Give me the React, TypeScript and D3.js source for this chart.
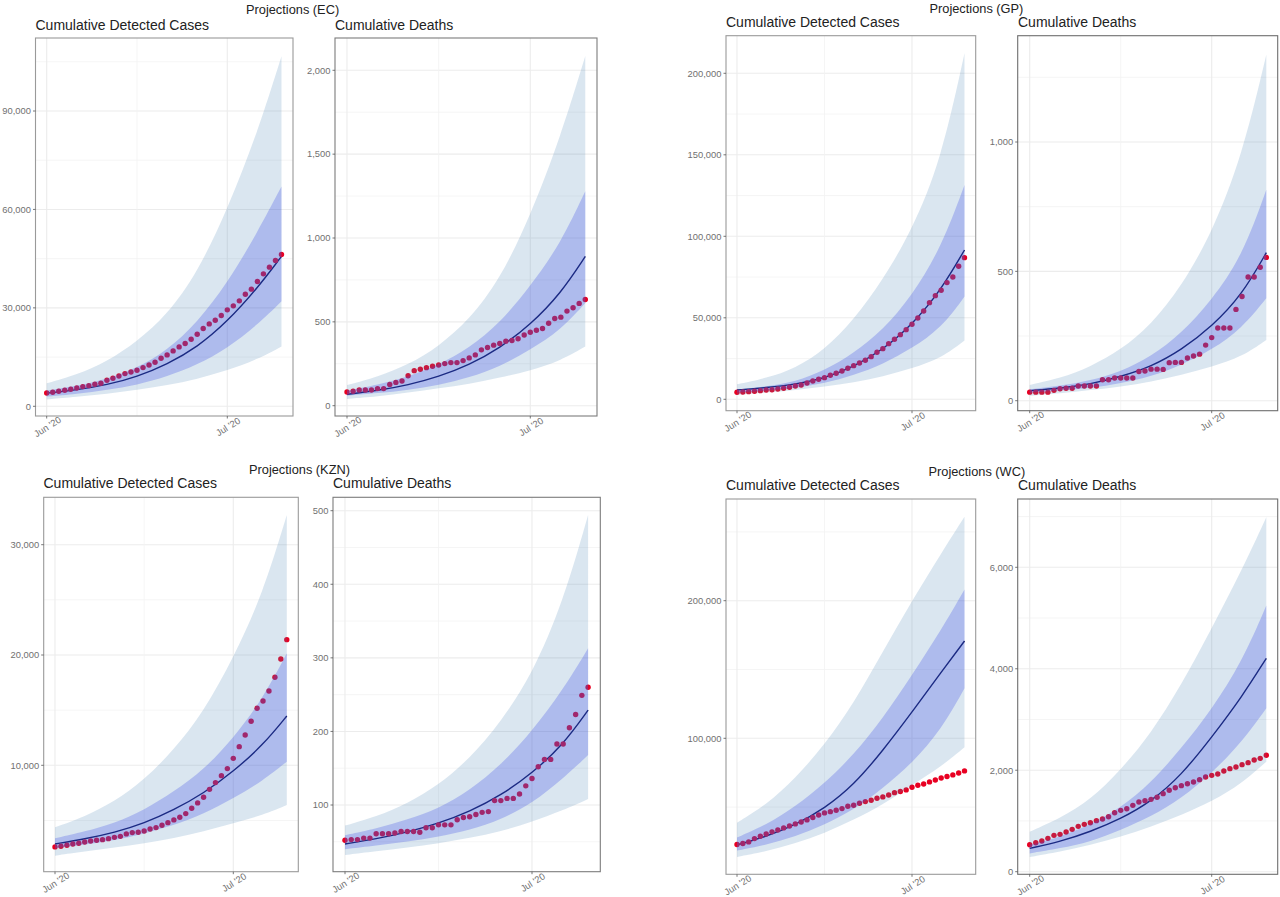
import React from "react";
import * as d3 from "d3";

// ---------- data ----------
const knotDays = [0, 5, 10, 15, 20, 25, 30, 35, 39];

const ecCasesObs = [4070,4270,4580,4880,5190,5590,6000,6300,6710,7020,7930,8540,9250,9970,10470,10980,11800,12610,13420,14640,15660,16880,18100,19120,20440,21970,23700,25120,26240,27660,29390,30610,32140,34170,35700,38040,40370,42410,44440,46270];
const ecCasesMed = [4000,5000,6500,9000,12800,18000,25800,36000,45700];
const ecCasesLo50 = [2950,3760,5000,6500,9050,12600,17700,24800,32000];
const ecCasesHi50 = [4800,6200,8300,11600,17000,25500,37500,53000,67000];
const ecCasesLo90 = [2100,2900,3800,5000,6400,8300,10900,14300,18200];
const ecCasesHi90 = [7000,9560,13600,19700,27900,40600,59900,83300,106700];

const ecDeathsObs = [82,86,94,94,94,102,102,127,139,147,179,209,217,227,235,243,251,257,257,269,285,303,333,347,361,371,385,389,399,422,438,450,460,492,520,528,564,584,610,633];
const ecDeathsMed = [68,90,123,173,243,343,482,670,890];
const ecDeathsLo50 = [60,74,94,123,168,233,333,452,612];
const ecDeathsHi50 = [90,123,173,243,343,492,711,970,1279];
const ecDeathsLo90 = [40,54,78,104,129,167,209,269,353];
const ecDeathsHi90 = [123,173,243,353,512,751,1130,1608,2086];

const gpCasesObs = [4300,4500,4700,4900,5300,5700,5900,6300,6750,7360,8180,8790,10020,11250,12270,13290,14720,15950,17380,19020,20650,22290,23930,26180,28830,31080,34150,36810,39670,42740,46010,49900,54190,59300,63600,66870,71580,75050,81600,86910];
const gpCasesMed = [5700,7160,9200,12900,20000,30300,45600,67100,91600];
const gpCasesLo50 = [4100,5300,6900,9800,14800,21500,31300,43600,63000];
const gpCasesHi50 = [6100,7800,10800,17600,28200,42500,63500,93000,131500];
const gpCasesLo90 = [2660,4090,5700,7800,10200,13900,19000,25200,36000];
const gpCasesHi90 = [9200,12900,19000,30300,48700,73200,103900,146800,212300];

const gpDeathsObs = [33,33,33,33,40,46,48,48,57,57,57,57,81,81,88,88,88,88,113,115,122,122,121,147,148,148,165,173,180,215,244,281,281,281,353,403,478,478,516,554];
const gpDeathsMed = [39,48,64,93,131,196,286,409,572];
const gpDeathsLo50 = [31,39,48,67,93,138,196,280,396];
const gpDeathsHi50 = [44,57,78,112,170,260,389,557,815];
const gpDeathsLo90 = [19,28,41,54,73,99,131,170,235];
const gpDeathsHi90 = [61,86,131,196,293,441,647,944,1337];

const kznCasesObs = [2600,2660,2750,2870,2930,3050,3140,3200,3260,3350,3470,3560,3780,3900,3930,4050,4230,4350,4560,4800,5050,5290,5620,6100,6590,7100,7820,8430,9060,9700,10630,11690,12750,13990,15170,15830,16740,17980,19640,21390];
const kznCasesMed = [2870,3320,3900,4740,5950,7460,9430,11840,14470];
const kznCasesLo50 = [2480,2800,3200,3800,4550,5600,7000,8600,10330];
const kznCasesHi50 = [3380,3990,4740,5950,7610,9580,12450,16070,20150];
const kznCasesLo90 = [1810,2180,2540,2930,3380,3990,4740,5500,6400];
const kznCasesHi90 = [4380,5350,6700,8670,11390,14860,19700,25600,32690];

const kznDeathsObs = [52,53,53,55,55,61,61,61,62,64,64,64,63,69,69,73,73,73,80,83,84,87,90,91,106,106,109,109,115,126,136,152,162,162,183,183,205,223,249,260];
const kznDeathsMed = [47,54,63,75,91,113,143,182,229];
const kznDeathsLo50 = [40,45,50,57,66,80,102,136,168];
const kznDeathsHi50 = [59,68,80,95,120,154,200,257,313];
const kznDeathsLo90 = [32,37,42,48,55,64,77,93,108];
const kznDeathsHi90 = [72,84,102,127,163,213,277,376,494];

const wcCasesObs = [22770,23500,24700,27100,28800,30500,32000,33400,34900,36300,37800,39200,40700,42400,44300,45800,46700,47700,48900,50600,51300,52800,54000,55000,56400,57400,58800,60500,61300,62500,64400,65900,66800,68300,69700,71200,72200,73400,74800,76300];
const wcCasesMed = [22500,28600,37100,49000,66000,91000,119000,148000,170700];
const wcCasesLo50 = [18400,22500,28600,37100,47900,63700,81800,106100,136300];
const wcCasesHi50 = [27900,37100,50400,67300,87900,114500,146000,178700,208200];
const wcCasesLo90 = [13800,17700,23700,31000,40700,51600,66100,79400,93500];
const wcCasesHi90 = [38700,51600,70900,95200,125400,163000,200000,234400,261000];

const wcDeathsObs = [532,572,605,657,716,736,782,835,894,933,966,1006,1038,1084,1163,1209,1242,1308,1374,1400,1426,1466,1538,1604,1656,1696,1735,1768,1814,1866,1899,1926,1985,2031,2064,2110,2149,2202,2234,2294];
const wcDeathsMed = [460,591,789,1040,1380,1900,2650,3450,4206];
const wcDeathsLo50 = [361,460,591,821,1084,1446,1939,2563,3220];
const wcDeathsHi50 = [526,690,920,1260,1750,2432,3200,4140,5245];
const wcDeathsLo90 = [289,394,526,690,887,1117,1380,1742,2169];
const wcDeathsHi90 = [789,1052,1413,2004,2727,3680,4800,5950,6986];

const casesTitle = "Cumulative Detected Cases";
const deathsTitle = "Cumulative Deaths";
const xTickDays = [0, 30];
const xTickLabels = ["Jun '20", "Jul '20"];
const xMinorDay = 15;

// ---------- layout ----------
type Panel = {
  title: string; titleX: number; titleY: number;
  box: [number, number, number, number]; // left, right, top, bottom
  dayPx: [number, number]; // px of day 0, day 30
  yAnchorV: [number, number]; yAnchorPx: [number, number];
  yTicks: number[];
  obs: number[]; med: number[]; lo50: number[]; hi50: number[]; lo90: number[]; hi90: number[];
  border: string;
};

const panels: Panel[] = [
  { title: casesTitle, titleX: 35.5, titleY: 29.5, box: [35.5, 293, 38, 416], dayPx: [46.7, 227.3],
    yAnchorV: [0, 90000], yAnchorPx: [406.3, 111], yTicks: [0, 30000, 60000, 90000],
    obs: ecCasesObs, med: ecCasesMed, lo50: ecCasesLo50, hi50: ecCasesHi50, lo90: ecCasesLo90, hi90: ecCasesHi90, border: "#9a9a9a" },
  { title: deathsTitle, titleX: 335, titleY: 29.5, box: [335, 597, 38, 416], dayPx: [347, 530.3],
    yAnchorV: [0, 2000], yAnchorPx: [405.7, 70.3], yTicks: [0, 500, 1000, 1500, 2000],
    obs: ecDeathsObs, med: ecDeathsMed, lo50: ecDeathsLo50, hi50: ecDeathsHi50, lo90: ecDeathsLo90, hi90: ecDeathsHi90, border: "#7c7c7c" },
  { title: casesTitle, titleX: 726, titleY: 27, box: [726, 975.7, 35.7, 410.7], dayPx: [737, 912],
    yAnchorV: [0, 200000], yAnchorPx: [399.3, 73.3], yTicks: [0, 50000, 100000, 150000, 200000],
    obs: gpCasesObs, med: gpCasesMed, lo50: gpCasesLo50, hi50: gpCasesHi50, lo90: gpCasesLo90, hi90: gpCasesHi90, border: "#9a9a9a" },
  { title: deathsTitle, titleX: 1018, titleY: 27, box: [1017.7, 1277.7, 35.7, 410.7], dayPx: [1029.7, 1211.7],
    yAnchorV: [0, 1000], yAnchorPx: [400.7, 142], yTicks: [0, 500, 1000],
    obs: gpDeathsObs, med: gpDeathsMed, lo50: gpDeathsLo50, hi50: gpDeathsHi50, lo90: gpDeathsLo90, hi90: gpDeathsHi90, border: "#6e6e6e" },
  { title: casesTitle, titleX: 43.5, titleY: 488, box: [43.7, 298.3, 497.3, 871.7], dayPx: [55, 233.3],
    yAnchorV: [10000, 30000], yAnchorPx: [765.3, 544.7], yTicks: [10000, 20000, 30000],
    obs: kznCasesObs, med: kznCasesMed, lo50: kznCasesLo50, hi50: kznCasesHi50, lo90: kznCasesLo90, hi90: kznCasesHi90, border: "#9a9a9a" },
  { title: deathsTitle, titleX: 333, titleY: 488, box: [333, 600.3, 497.3, 871.7], dayPx: [345, 532],
    yAnchorV: [100, 500], yAnchorPx: [805, 510.7], yTicks: [100, 200, 300, 400, 500],
    obs: kznDeathsObs, med: kznDeathsMed, lo50: kznDeathsLo50, hi50: kznDeathsHi50, lo90: kznDeathsLo90, hi90: kznDeathsHi90, border: "#7c7c7c" },
  { title: casesTitle, titleX: 726, titleY: 490, box: [726, 975.7, 499, 874.3], dayPx: [737, 912],
    yAnchorV: [100000, 200000], yAnchorPx: [738.3, 600.7], yTicks: [100000, 200000],
    obs: wcCasesObs, med: wcCasesMed, lo50: wcCasesLo50, hi50: wcCasesHi50, lo90: wcCasesLo90, hi90: wcCasesHi90, border: "#9a9a9a" },
  { title: deathsTitle, titleX: 1018, titleY: 490, box: [1017.7, 1277.7, 499, 874.3], dayPx: [1029.7, 1211.7],
    yAnchorV: [0, 6000], yAnchorPx: [871.7, 567.3], yTicks: [0, 2000, 4000, 6000],
    obs: wcDeathsObs, med: wcDeathsMed, lo50: wcDeathsLo50, hi50: wcDeathsHi50, lo90: wcDeathsLo90, hi90: wcDeathsHi90, border: "#6e6e6e" },
];

const headings = [
  { text: "Projections (EC)", x: 246, y: 14 },
  { text: "Projections (GP)", x: 929.5, y: 12.5 },
  { text: "Projections (KZN)", x: 249, y: 474 },
  { text: "Projections (WC)", x: 928.5, y: 476 },
];

const FONT = "'Liberation Sans', Arial, sans-serif";
const comma = d3.format(",");

function ChartPanel({ p }: { p: Panel }) {
  const [left, right, top, bottom] = p.box;
  const x = d3.scaleLinear().domain([0, 30]).range(p.dayPx);
  const y = d3.scaleLinear().domain(p.yAnchorV).range(p.yAnchorPx);
  const curve = d3.curveBasis;
  const band = (lo: number[], hi: number[]) =>
    d3.area<number>()
      .x((d) => x(d))
      .y0((_, i) => y(lo[i]))
      .y1((_, i) => y(hi[i]))
      .curve(curve)(knotDays) as string;
  const line = d3.line<number>()
    .x((d) => x(d))
    .y((_, i) => y(p.med[i]))
    .curve(curve)(knotDays) as string;

  const step = p.yTicks[1] - p.yTicks[0];
  const lowV = y.invert(bottom), highV = y.invert(top);
  const minors: number[] = [];
  for (let k = Math.ceil(lowV / (step / 2)); k * (step / 2) <= highV; k++) {
    if (k % 2 !== 0) minors.push(k * (step / 2));
  }

  return (
    <g>
      <text x={p.titleX} y={p.titleY} fontSize={14} fill="#222" fontFamily={FONT}>{p.title}</text>
      {minors.map((v) => (
        <line key={v} x1={left} x2={right} y1={y(v)} y2={y(v)} stroke="#f2f2f2" strokeWidth={0.8} />
      ))}
      {p.yTicks.map((v) => (
        <line key={v} x1={left} x2={right} y1={y(v)} y2={y(v)} stroke="#ececec" strokeWidth={1.1} />
      ))}
      <line x1={x(xMinorDay)} x2={x(xMinorDay)} y1={top} y2={bottom} stroke="#f2f2f2" strokeWidth={0.8} />
      {xTickDays.map((d) => (
        <line key={d} x1={x(d)} x2={x(d)} y1={top} y2={bottom} stroke="#ececec" strokeWidth={1.1} />
      ))}
      <path d={line} fill="none" stroke="#000548" strokeWidth={1.4} />
      {p.obs.map((v, i) => (
        <circle key={i} cx={x(i)} cy={y(v)} r={2.7} fill="#e80022" />
      ))}
      <path d={band(p.lo90, p.hi90)} fill="rgb(70,130,180)" fillOpacity={0.2} />
      <path d={band(p.lo50, p.hi50)} fill="rgb(60,75,230)" fillOpacity={0.28} />
      <rect x={left} y={top} width={right - left} height={bottom - top} fill="none" stroke={p.border} strokeWidth={1.1} />
      {p.yTicks.map((v) => (
        <g key={v}>
          <line x1={left - 2.5} x2={left} y1={y(v)} y2={y(v)} stroke="#555" strokeWidth={0.8} />
          <text x={left - 4.5} y={y(v)} dy="0.35em" textAnchor="end" fontSize={9.4} fill="#707070" fontFamily={FONT}>{comma(v)}</text>
        </g>
      ))}
      {xTickDays.map((d, i) => (
        <g key={d}>
          <line x1={x(d)} x2={x(d)} y1={bottom} y2={bottom + 2.5} stroke="#555" strokeWidth={0.8} />
          <text transform={`translate(${x(d) + 2.5},${bottom + 13.5}) rotate(-32)`} textAnchor="middle" fontSize={9.4} fill="#707070" fontFamily={FONT}>{xTickLabels[i]}</text>
        </g>
      ))}
    </g>
  );
}

export default function App() {
  return (
    <svg width={1280} height={897} viewBox="0 0 1280 897" style={{ position: "absolute", left: 0, top: 0, background: "#fff" }}>
      {headings.map((h) => (
        <text key={h.text} x={h.x} y={h.y} fontSize={12.8} fill="#222" fontFamily={FONT}>{h.text}</text>
      ))}
      {panels.map((p, i) => <ChartPanel key={i} p={p} />)}
    </svg>
  );
}
